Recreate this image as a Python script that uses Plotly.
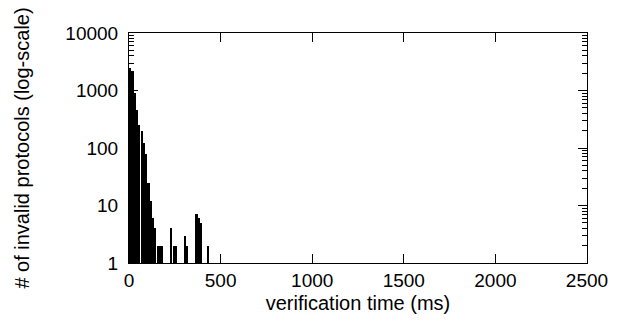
import plotly.graph_objects as go

# histogram of verification time, 12.5 ms bins (bin start in ms)
bin_width = 12.5
bin_starts = [0, 12.5, 25, 37.5, 50, 62.5, 75, 87.5, 100, 112.5, 125, 137.5,
              150, 162.5, 175, 225, 237.5, 250, 300, 312.5, 362.5, 375, 387.5, 425]
counts = [2500, 2150, 900, 450, 250, 200, 120, 80, 25, 12, 6, 4,
          2, 2, 2, 4, 2, 2, 3, 2, 7, 6, 5, 2]

x_ticks = [0, 500, 1000, 1500, 2000, 2500]
y_ticks = [1, 10, 100, 1000, 10000]

centers = [s + bin_width / 2 for s in bin_starts]

fig = go.Figure()
fig.add_trace(go.Bar(
    x=centers, y=counts, width=bin_width * 0.96,
    marker=dict(color="black", line=dict(width=0)),
))

font = dict(family="Liberation Sans, Arial, sans-serif", color="black")

fig.update_layout(
    width=616, height=320,
    margin=dict(l=121, r=37, t=25, b=65),
    paper_bgcolor="white", plot_bgcolor="white",
    showlegend=False,
    bargap=0,
    font=dict(size=19, **font),
    xaxis=dict(
        range=[0, 2500], tickvals=x_ticks, ticktext=[str(v) for v in x_ticks],
        ticks="inside", ticklen=9, tickwidth=1, tickcolor="black",
        showline=True, linecolor="black", linewidth=1, mirror="allticks",
        showgrid=False, zeroline=False, automargin=False,
        tickfont=dict(size=19, **font),
        title=dict(text="verification time (ms)", font=dict(size=20, **font), standoff=6),
    ),
    yaxis=dict(
        type="log", range=[0, 4], tickvals=y_ticks, ticktext=[str(v) for v in y_ticks],
        ticks="inside", ticklen=9, tickwidth=1, tickcolor="black",
        minor=dict(ticks="inside", ticklen=5, tickcolor="black", dtick="D1", showgrid=False),
        showline=True, linecolor="black", linewidth=1, mirror="allticks",
        showgrid=False, zeroline=False, automargin=False,
        tickfont=dict(size=19, **font),
        ticklabelstandoff=6,
        title=dict(text="# of invalid protocols (log-scale)", font=dict(size=20, **font), standoff=30),
    ),
)

fig.write_html("out.html")
